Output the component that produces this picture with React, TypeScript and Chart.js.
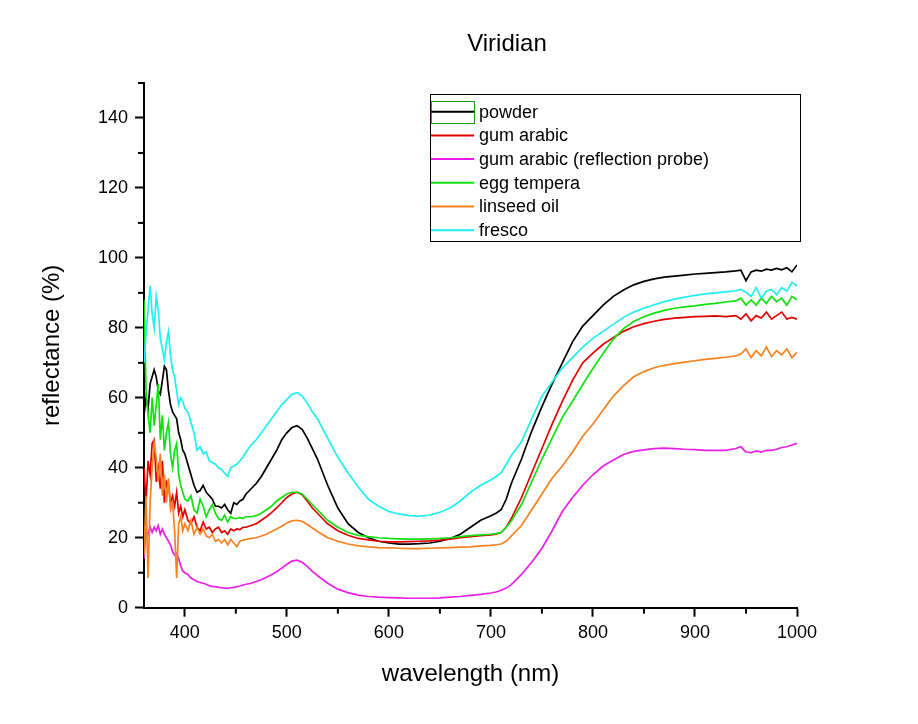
import React, { useEffect, useRef } from 'react';
import { Chart, Plugin, registerables } from 'chart.js';

Chart.register(...registerables);

const FONT = '"Liberation Sans", Arial, sans-serif';

const chartTitle = 'Viridian';
const xTitle = 'wavelength (nm)';
const yTitle = 'reflectance (%)';

// wavelength grid (nm), denser where the spectra are noisy
const wavelengths = [
  360, 362, 364, 366, 368, 370, 372, 374, 376, 378, 380, 382, 384, 386, 388, 390, 392, 394, 396, 398, 400,
  403, 406, 409, 412, 415, 418, 421, 424, 427, 430, 433, 436, 439, 442, 445, 448, 451, 454, 457, 460,
  465, 470, 475, 480, 485, 490, 495, 500, 505, 510, 515, 520, 525, 530,
  540, 550, 560, 570, 580, 590, 600, 610, 620, 630, 640, 650, 660, 670, 680, 690, 700,
  705, 710, 715, 720,
  730, 740, 750, 760, 770, 780, 790, 800, 810, 820, 830, 840, 850, 860, 870, 880, 890, 900, 910, 920, 930, 940,
  945, 950, 955, 960, 965, 970, 975, 980, 985, 990, 995, 1000,
];

const powder = [
  55, 60, 57, 64, 66, 68, 66, 62, 61, 65, 69, 68, 62, 58, 56, 55, 54, 50, 48, 45, 44,
  41, 38, 35, 33, 33.5, 35, 33, 32, 31, 29, 29, 28.5, 29.5, 28, 27, 30, 29.5, 30.5, 31, 32.5,
  34, 35.5, 37.5, 40, 42.5, 45, 48, 50, 51.5, 52, 51, 48.5, 45.5, 42.5,
  35, 28.5, 24, 21.5, 20, 19, 18.5, 18.2, 18.2, 18.3, 18.5, 19, 19.8, 21, 23, 25, 26.3,
  27, 28, 31, 35.5,
  42.5, 50.5, 57.5, 64, 70, 76, 80.5, 83.5, 86.5, 89, 90.8, 92.3, 93.3, 94, 94.5, 94.8, 95.1, 95.4, 95.6, 95.8, 96, 96.3,
  96.5, 93.5, 96, 96.5, 96.2, 96.8, 96.5, 97, 96.6, 97.2, 96, 98,
];

const gumArabic = [
  40, 30, 42, 38, 47, 48, 36, 40, 34, 42, 30, 36, 35, 30, 32, 29, 33, 27, 29, 26, 28,
  25, 24, 26, 23, 22, 24.5, 22.5, 23, 21.5, 22.5, 23, 21.5, 22, 21, 22.5, 22, 22.5, 22.3, 23, 23,
  23.5, 24, 25, 26, 27.2, 28.5, 30, 31.5, 32.5, 33, 32.3, 30.5, 28.5, 27,
  24, 22, 20.7, 19.8, 19.4, 19, 18.8, 18.8, 18.9, 19, 19.1, 19.3, 19.6, 20, 20.3, 20.6, 20.8,
  21, 21.5, 23, 25.5,
  31.5, 38.5, 45.5, 52.5, 59, 65, 70, 72.8, 75.3, 77.2, 79, 80.3, 81.2, 81.9, 82.4, 82.8, 83, 83.2, 83.3, 83.4, 83.2, 83.5,
  82.5, 84, 82, 83.5, 82.8, 84.5, 82.5, 83.5, 84.5, 82.5, 83, 82.5,
];

const reflectionProbe = [
  14, 22, 21, 23, 21.5, 23, 22, 23.5, 21, 22.5, 21, 20, 19, 18, 16, 15, 15.5, 14, 12, 10.5, 10,
  9.5, 8.5, 8, 7.5, 7.2, 7, 6.7, 6.3, 6, 6, 5.8, 5.7, 5.6, 5.5, 5.7, 5.8, 6, 6.2, 6.5, 6.7,
  7, 7.5, 8, 8.7, 9.4, 10.3, 11.3, 12.4, 13.3, 13.6, 13, 11.8, 10.4, 9.2,
  7, 5.3, 4.3, 3.6, 3.2, 3, 2.9, 2.8, 2.7, 2.7, 2.7, 2.8, 3, 3.2, 3.5, 3.8, 4.2,
  4.5, 5, 5.6, 6.6,
  9.5, 13, 17, 22, 27.5, 31.5, 35, 38, 40.5, 42.2, 43.8, 44.7, 45.1, 45.5, 45.6, 45.5, 45.3, 45.2, 45, 45, 45, 45.5,
  46, 44.5, 44.3, 44.8, 44.5, 45, 45, 45.3, 45.8, 46, 46.5, 47,
];

const eggTempera = [
  88, 62, 55, 50, 60, 52, 58, 64, 48, 55, 45, 50, 53, 44, 40, 45, 47, 38, 35, 33, 31,
  30.5, 32, 28, 27, 31, 29, 26, 28, 29.5, 27, 25.5, 25, 26.5, 24.5, 26, 25.5, 25.5, 25.8, 25.5, 26,
  26, 26.3, 27, 28, 29, 30.5, 31.5, 32.5, 33, 33, 32.5, 31, 29.5, 28,
  25, 23, 21.5, 20.7, 20.3, 20, 19.8, 19.7, 19.6, 19.6, 19.7, 19.8, 20, 20.3, 20.6, 20.8, 21,
  21.2, 21.5, 23, 24.8,
  29.5, 36, 42.5, 48.5, 54.4, 59, 63.8, 68.4, 72.7, 76.8, 79.8, 81.8, 83.2, 84.2, 85, 85.6, 86, 86.3, 86.7, 87, 87.4, 87.7,
  88.5, 86.5, 88, 86.5, 88.5, 87, 89, 87.5, 88.5, 86.5, 89, 88,
];

const linseedOil = [
  15, 32, 8.5, 30, 40, 47, 43, 36, 44, 32, 38, 30, 37, 28, 30, 22, 8.5, 24, 26, 22, 24,
  22, 25, 21, 23, 21, 22.5, 20.5, 20, 21, 19, 19.5, 18.5, 19.5, 18, 19.5, 18.5, 17.5, 19, 19.3, 19.5,
  19.8, 20, 20.5, 21, 21.8, 22.5, 23.3, 24.2, 24.8, 25, 24.7, 23.8, 22.8, 21.8,
  20, 19, 18.2, 17.7, 17.4, 17.2, 17.1, 17, 16.9, 16.9, 17, 17.1, 17.2, 17.3, 17.4, 17.7, 17.8,
  18, 18.2, 19, 20.5,
  23.5, 28, 32.5, 37, 40.5, 44.5, 49, 52.5, 56.5, 60.5, 63.5, 66, 67.5, 68.6, 69.3, 69.8, 70.2, 70.6, 71, 71.3, 71.6, 72,
  72.5, 74, 71.5, 73.5, 72, 74.5, 71.8, 73.5, 72.3, 74, 71.5, 73,
];

const fresco = [
  70, 78, 85, 92, 84, 80, 89, 85, 77, 74, 71, 76, 79, 72, 68, 66, 62, 58, 60, 59, 57,
  56, 53, 50, 45, 46, 44, 44.5, 42, 41.5, 41, 40, 39.5, 38.5, 37.5, 40, 40.5, 41, 42, 43, 44.5,
  46.5, 48, 50, 52, 54, 56, 58, 59.5, 61, 61.5, 60.5, 58.5, 56, 54,
  48.5, 43, 38.5, 34.5, 31, 29, 27.5, 26.8, 26.3, 26.2, 26.5, 27.3, 28.5, 30.5, 33, 35, 36.5,
  37.5, 38.5, 41, 43.5,
  47.5, 54, 60.5, 64.5, 68.5, 71.5, 74.5, 77, 79, 81, 83, 84.5, 85.6, 86.6, 87.5, 88.2, 88.8, 89.3, 89.7, 90, 90.3, 90.6,
  91, 90.2, 89, 91.5, 88.5, 90.5, 91, 89.5, 91.5, 90.5, 93, 92,
];

const seriesNames = ['powder', 'gum arabic', 'gum arabic (reflection probe)', 'egg tempera', 'linseed oil', 'fresco'];
const seriesValues = [powder, gumArabic, reflectionProbe, eggTempera, linseedOil, fresco];
const seriesColors = ['#000000', '#E00000', '#E91FE9', '#10E010', '#F58220', '#20EEF0'];

const xMinorTicks = [450, 550, 650, 750, 850, 950];
const yMinorTicks = [10, 30, 50, 70, 90, 110, 130, 150];

const decorPlugin: Plugin = {
  id: 'decor',
  afterDraw(chart) {
    const { ctx, chartArea } = chart;
    const xs = chart.scales.x;
    const ys = chart.scales.y;
    ctx.save();

    // minor ticks
    ctx.strokeStyle = '#000';
    ctx.lineWidth = 2;
    xMinorTicks.forEach((v) => {
      const px = xs.getPixelForValue(v);
      ctx.beginPath();
      ctx.moveTo(px, chartArea.bottom);
      ctx.lineTo(px, chartArea.bottom + 6);
      ctx.stroke();
    });
    yMinorTicks.forEach((v) => {
      const py = ys.getPixelForValue(v);
      ctx.beginPath();
      ctx.moveTo(chartArea.left, py);
      ctx.lineTo(chartArea.left - 6, py);
      ctx.stroke();
    });

    // title
    ctx.fillStyle = '#000';
    ctx.font = `24px ${FONT}`;
    ctx.textAlign = 'center';
    ctx.textBaseline = 'middle';
    ctx.fillText(chartTitle, 507, 44);

    // legend box inside the plot
    const bx = 430.5, by = 94.5, bw = 370, bh = 147;
    ctx.fillStyle = '#fff';
    ctx.fillRect(bx, by, bw, bh);
    ctx.lineWidth = 1;
    ctx.strokeStyle = '#000';
    ctx.strokeRect(bx, by, bw, bh);

    // odd selection marker around the first sample
    ctx.strokeStyle = '#1a9a1a';
    ctx.strokeRect(431.5, 101.5, 43, 22);
    ctx.strokeStyle = '#E91FE9';
    ctx.beginPath();
    ctx.moveTo(431.5, 101.5);
    ctx.lineTo(431.5, 123.5);
    ctx.stroke();

    ctx.font = `18px ${FONT}`;
    ctx.textAlign = 'left';
    seriesNames.forEach((name, i) => {
      const y = 111.7 + i * 23.7;
      ctx.strokeStyle = seriesColors[i];
      ctx.lineWidth = 2;
      ctx.beginPath();
      ctx.moveTo(431, y);
      ctx.lineTo(474, y);
      ctx.stroke();
      ctx.fillStyle = '#000';
      ctx.fillText(name, 479, y + 1);
    });

    ctx.restore();
  },
};

const App: React.FC = () => {
  const canvasRef = useRef<HTMLCanvasElement | null>(null);

  useEffect(() => {
    document.body.style.margin = '0';
    if (!canvasRef.current) return;

    const chart = new Chart(canvasRef.current, {
      type: 'line',
      data: {
        datasets: seriesNames.map((name, i) => ({
          label: name,
          data: wavelengths.map((x, j) => ({ x, y: seriesValues[i][j] })),
          borderColor: seriesColors[i],
          backgroundColor: seriesColors[i],
          borderWidth: 1.7,
          pointRadius: 0,
          tension: 0,
          fill: false,
          order: seriesNames.length - i,
        })),
      },
      options: {
        animation: false,
        responsive: false,
        devicePixelRatio: 1,
        layout: { padding: { top: 83, right: 121, left: 0, bottom: 0 } },
        plugins: {
          legend: { display: false },
          title: { display: false },
          tooltip: { enabled: false },
        },
        scales: {
          x: {
            type: 'linear',
            min: 360,
            max: 1000,
            ticks: {
              stepSize: 100,
              includeBounds: false,
              color: '#000',
              font: { family: FONT, size: 18 },
              padding: 6,
              maxRotation: 0,
              callback: (v) => String(v),
            },
            grid: { drawOnChartArea: false, tickLength: 9, tickWidth: 2, tickColor: '#000' },
            border: { display: true, color: '#000', width: 2 },
            title: {
              display: true,
              text: xTitle,
              color: '#000',
              font: { family: FONT, size: 24 },
              padding: { top: 0, bottom: 35 },
            },
            afterFit: (s) => {
              s.height = 724 - 607.7;
            },
          },
          y: {
            type: 'linear',
            min: 0,
            max: 150,
            ticks: {
              stepSize: 20,
              includeBounds: false,
              color: '#000',
              font: { family: FONT, size: 18 },
              padding: 7,
              callback: (v) => String(v),
            },
            grid: { drawOnChartArea: false, tickLength: 9, tickWidth: 2, tickColor: '#000' },
            border: { display: true, color: '#000', width: 2 },
            title: {
              display: true,
              text: yTitle,
              color: '#000',
              font: { family: FONT, size: 24 },
              padding: { top: 38, bottom: 0 },
            },
            afterFit: (s) => {
              s.width = 144;
            },
          },
        },
      },
      plugins: [decorPlugin],
    });

    return () => {
      chart.destroy();
    };
  }, []);

  return (
    <div style={{ width: 918, height: 724, background: '#fff' }}>
      <canvas ref={canvasRef} width={918} height={724} style={{ display: 'block' }} />
    </div>
  );
};

export default App;
